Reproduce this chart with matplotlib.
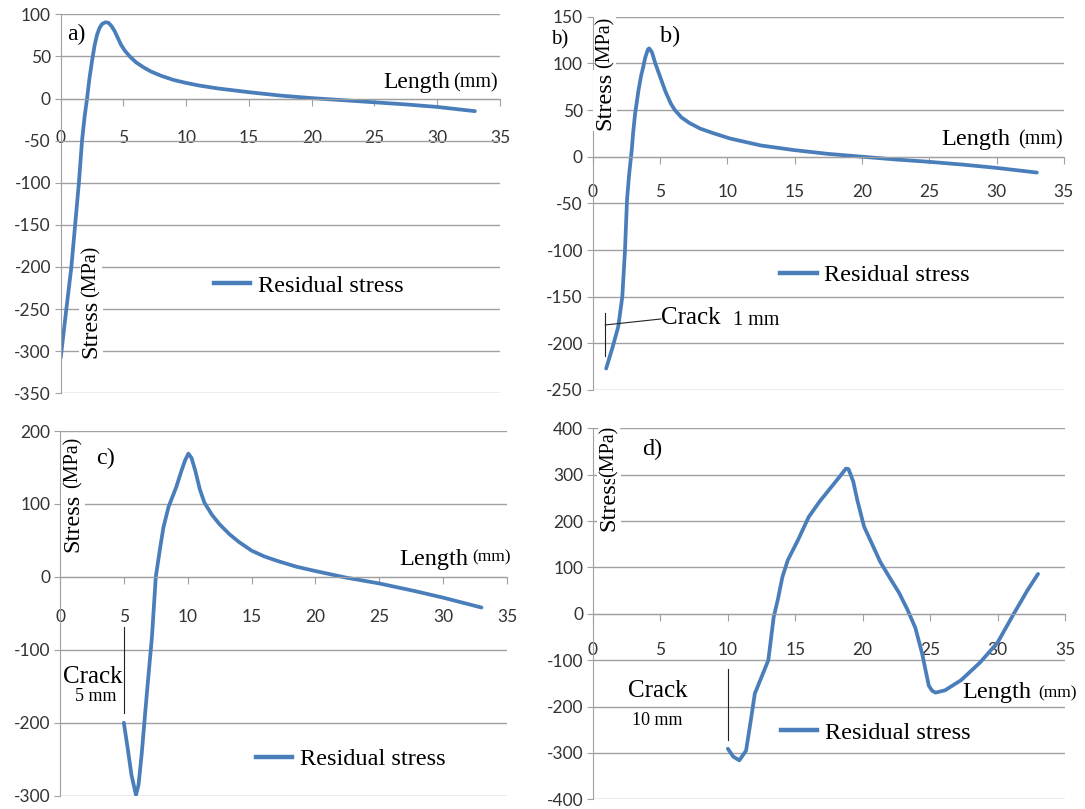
import matplotlib
matplotlib.use("Agg")
import matplotlib.pyplot as plt
from matplotlib.lines import Line2D

plt.rcParams["axes.unicode_minus"] = False

# ---------------- data ----------------
x_a = [0, 0.45, 0.85, 1.15, 1.45, 1.7, 1.9, 2.1, 2.3, 2.5, 2.7, 2.9, 3.1, 3.3, 3.55, 3.8, 4.05,
       4.3, 4.55, 4.8, 5.1, 5.5, 6.0, 6.6, 7.2, 8.0, 9, 10, 11, 12.5, 15, 17.5, 20, 22.5, 25,
       27.5, 30, 33]
y_a = [-308, -250, -200, -150, -100, -50, -22, 0, 25, 45, 63, 76, 84, 88.5, 90.5, 90, 86,
       80, 72, 64, 57, 50, 43, 37, 32, 27, 22, 18.5, 15.5, 12, 7.5, 3.5, 0.5, -2, -4.5,
       -7, -10, -15]

x_b = [1.0, 1.5, 1.9, 2.2, 2.4, 2.55, 2.7, 2.9, 3.0, 3.15, 3.4, 3.6, 3.75, 3.9, 4.1, 4.2, 4.4,
       4.65, 5.0, 5.4, 5.8, 6.1, 6.6, 7.2, 8.0, 9.0, 10.2, 12.5, 15, 17.5, 20, 22.5, 25, 27.5,
       30, 33]
y_b = [-227, -203, -182, -150, -100, -46, -20, 7, 25, 46, 71, 87, 96, 106, 115, 116, 112,
       100, 86, 70, 57, 50, 42, 36, 30, 25, 19.5, 12, 7, 3, 0, -3, -5.5, -8.5,
       -12, -17]

x_c = [5.0, 5.3, 5.6, 5.95, 6.15, 6.4, 6.8, 7.2, 7.5, 7.85, 8.1, 8.5, 9.1, 9.5, 9.8, 10.05,
       10.3, 10.6, 10.95, 11.3, 11.9, 12.5, 13.3, 14.0, 15.0, 16.0, 17.0, 18.5, 20, 22.4, 25,
       27.8, 30, 33]
y_c = [-200, -235, -272, -299, -285, -242, -160, -82, 0, 41, 68, 96, 123, 145, 160, 169,
       163, 145, 120, 102, 85, 72, 58, 48, 36, 28, 22, 14, 8, -1, -9,
       -19.5, -28.5, -42]

x_d = [10.0, 10.4, 10.85, 11.35, 11.7, 12.0, 12.6, 13.0, 13.4, 13.7, 14.05, 14.45, 15.2, 16.0,
       16.8, 17.3, 17.8, 18.3, 18.75, 18.95, 19.3, 19.6, 20.1, 20.7, 21.3, 22.0, 22.7, 23.3,
       23.9, 24.4, 24.9, 25.15, 25.4, 26.1, 27.3, 28.7, 30.0, 31.2, 32.2, 33.0]
y_d = [-291, -308, -316, -295, -230, -172, -129, -100, -7, 30, 80, 116, 159, 209,
       242, 260, 278, 296, 313, 312, 285, 245, 188, 150, 112, 78, 45, 10,
       -30, -85, -155, -166, -170, -165, -143, -105, -62, 0, 50, 86]

x_ticks = [0, 5, 10, 15, 20, 25, 30, 35]
series_label = "Residual stress"

# ---------------- figure ----------------
W, H = 1085, 809
fig = plt.figure(figsize=(W / 100, H / 100), dpi=100)
fig.patch.set_facecolor("white")

LINE_C = "#4a7ebb"
GRID_C = "#a0a0a0"
TICK_C = "#333333"
SERIF = ["Liberation Serif", "DejaVu Serif"]
SANS = ["Lato", "DejaVu Sans"]


def make_ax(left, right, top, bottom, ylim, ystep, xpad):
    ax = fig.add_axes([left / W, 1 - bottom / H, (right - left) / W, (bottom - top) / H])
    ax.set_xlim(0, 35)
    ax.set_ylim(*ylim)
    ax.set_yticks(list(range(ylim[0], ylim[1] + 1, ystep)))
    ax.set_xticks(x_ticks)
    ax.yaxis.grid(True, color=GRID_C, lw=1.0)
    ax.set_axisbelow(True)
    for s in ("top", "right"):
        ax.spines[s].set_visible(False)
    ax.spines["left"].set_color(GRID_C)
    ax.spines["bottom"].set_color(GRID_C)
    ax.spines["bottom"].set_position(("data", 0))
    ax.tick_params(axis="x", direction="out", length=5, color=GRID_C, pad=xpad,
                   labelsize=12.5, labelcolor=TICK_C)
    ax.tick_params(axis="y", direction="out", length=4, color=GRID_C, pad=3,
                   labelsize=12.5, labelcolor=TICK_C)
    for lab in ax.get_xticklabels() + ax.get_yticklabels():
        lab.set_fontfamily(SANS)
    ax.patch.set_alpha(0)
    return ax


def serif(ax, x, y, s, size, **kw):
    kw.setdefault("va", "center")
    kw.setdefault("ha", "left")
    return ax.text(x, y, s, fontsize=size, family=SERIF, color="black", clip_on=False, **kw)


def stress_label(ax, x, y_stress, y_mpa):
    bb = dict(facecolor="white", edgecolor="none", pad=1)
    serif(ax, x, y_stress, "Stress", 17.5, rotation=90, ha="center", bbox=bb)
    serif(ax, x, y_mpa, "(MPa)", 14.5, rotation=90, ha="center", bbox=bb)


def legend(ax, x, y):
    h = [Line2D([0], [0], color=LINE_C, lw=3.2)]
    ax.legend(h, [series_label], loc="center left", bbox_to_anchor=(x, y),
              bbox_transform=ax.transData, frameon=False, borderpad=0, borderaxespad=0,
              handlelength=1.5, handletextpad=0.3,
              prop={"family": SERIF, "size": 17.5})


def curve(ax, xs, ys):
    ax.plot(xs, ys, color=LINE_C, lw=2.7, solid_capstyle="round", solid_joinstyle="round")


# ---- panel a ----
ax_a = make_ax(60.7, 500, 14.3, 393.3, (-350, 100), 50, 17.5)
curve(ax_a, x_a, y_a)
serif(ax_a, 1.27, 76.6, "a)", 17, ha="center")
serif(ax_a, 25.7, 19, "Length", 17)
serif(ax_a, 31.26, 18.4, "(mm)", 14.5)
stress_label(ax_a, 2.38, -274, -205)
legend(ax_a, 12.2, -222)

# ---- panel b ----
ax_b = make_ax(592.7, 1063.8, 16.7, 390, (-250, 150), 50, 15)
curve(ax_b, x_b, y_b)
serif(ax_b, -2.49, 125, "b)", 15, ha="center")
serif(ax_b, 5.74, 128.5, "b)", 17.5, ha="center")
serif(ax_b, 25.9, 17.9, "Length", 17.5)
serif(ax_b, 31.6, 17.9, "(mm)", 14.5)
stress_label(ax_b, 0.91, 60, 122)
legend(ax_b, 13.92, -126.8)
ax_b.plot([0.94, 0.94], [-167.7, -213.4], color="#222222", lw=0.8, clip_on=False)
ax_b.plot([0.94, 5.07], [-180.3, -173.9], color="#222222", lw=0.8, clip_on=False)
serif(ax_b, 5.07, -173, "Crack", 18)
serif(ax_b, 10.45, -175, "1 mm", 14.5)

# ---- panel c ----
ax_c = make_ax(60, 507, 431, 795.7, (-300, 200), 100, 18)
curve(ax_c, x_c, y_c)
serif(ax_c, 3.6, 163, "c)", 17.5, ha="center")
serif(ax_c, 26.6, 23.9, "Length", 17.5)
serif(ax_c, 32.3, 27, "(mm)", 12.5)
stress_label(ax_c, 1.04, 74, 157)
legend(ax_c, 15.35, -249.7)
ax_c.plot([5.01, 5.01], [-68.5, -187], color="#222222", lw=0.8, clip_on=False)
serif(ax_c, 0.26, -137, "Crack", 18)
serif(ax_c, 1.17, -164.5, "5 mm", 13)

# ---- panel d ----
ax_d = make_ax(593, 1065, 428.3, 799.3, (-400, 400), 100, 15)
curve(ax_d, x_d, y_d)
serif(ax_d, 4.37, 354.7, "d)", 17.5, ha="center")
serif(ax_d, 27.4, -170.5, "Length", 17.5)
serif(ax_d, 33.0, -172, "(mm)", 12.5)
stress_label(ax_d, 1.21, 241.7, 349.6)
legend(ax_d, 13.93, -256)
ax_d.plot([9.98, 9.98], [-119, -273], color="#222222", lw=0.8, clip_on=False)
serif(ax_d, 2.62, -166, "Crack", 18)
serif(ax_d, 2.87, -229.6, "10 mm", 13)

fig.savefig("out.png", dpi=100)
